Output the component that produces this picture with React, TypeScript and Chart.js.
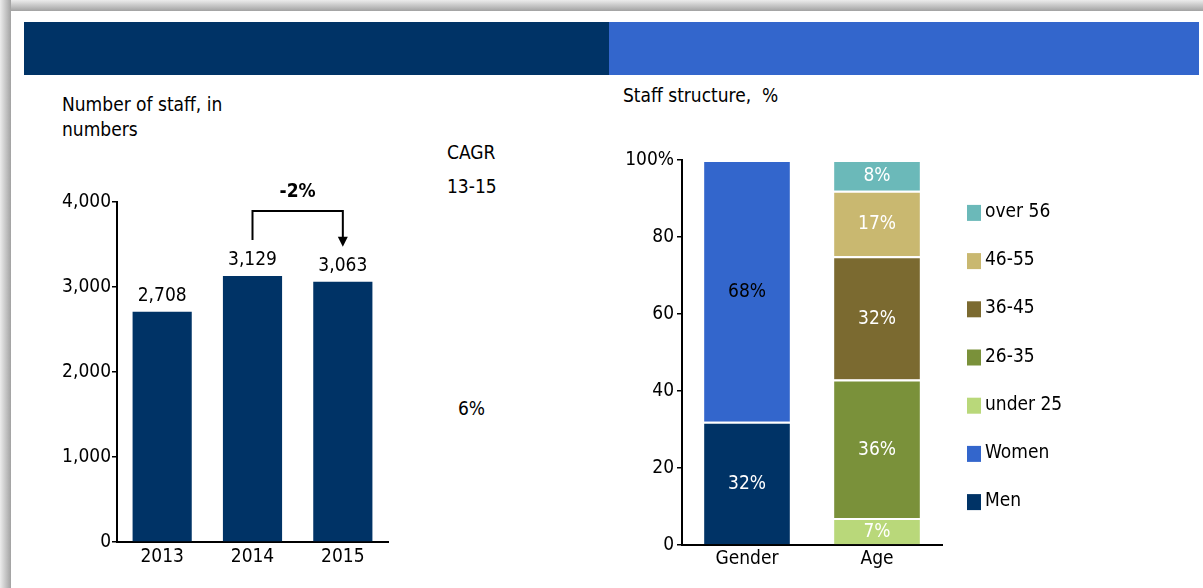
import React, { useEffect, useRef } from 'react';
import { Chart, registerables } from 'chart.js';

Chart.register(...registerables);

const FONT = '"DejaVu Sans Condensed", "DejaVu Sans", sans-serif';

// ---- Left chart data ----
const years = ['2013', '2014', '2015'];
const staffCounts = [2708, 3129, 3063];
const staffTicks = [0, 1000, 2000, 3000, 4000];
const cagrLabel = '-2%';
const cagrHeader = ['CAGR', '13-15'];
const sideValue = '6%';

// ---- Right chart data ----
const structureCategories = ['Gender', 'Age'];
const menShare = [32, null];
const womenShare = [68, null];
const under25Share = [null, 7];
const age26to35Share = [null, 36];
const age36to45Share = [null, 32];
const age46to55Share = [null, 17];
const over56Share = [null, 8];
const structureTicks = [0, 20, 40, 60, 80, 100];

const NAVY = '#003366';
const BLUE = '#3366CC';

const staffAnnotations = {
  id: 'staffAnnotations',
  afterDatasetsDraw(chart: any) {
    const { ctx } = chart;
    const meta = chart.getDatasetMeta(0);
    ctx.save();
    ctx.font = `19px ${FONT}`;
    ctx.fillStyle = '#000';
    ctx.textAlign = 'center';
    ctx.textBaseline = 'alphabetic';
    const tops: number[] = [];
    meta.data.forEach((el: any, i: number) => {
      const v = chart.data.datasets[0].data[i] as number;
      const baseY = el.y - 11;
      ctx.fillText(v.toLocaleString('en-US'), el.x, baseY);
      tops.push(baseY - 14);
    });
    const a = meta.data[1];
    const b = meta.data[2];
    const topY = Math.min(tops[1], tops[2]) - 40;
    ctx.strokeStyle = '#000';
    ctx.lineWidth = 2;
    ctx.beginPath();
    ctx.moveTo(a.x, tops[1] - 11);
    ctx.lineTo(a.x, topY);
    ctx.lineTo(b.x, topY);
    ctx.lineTo(b.x, tops[2] - 19);
    ctx.stroke();
    ctx.beginPath();
    ctx.moveTo(b.x - 5, tops[2] - 20);
    ctx.lineTo(b.x + 5, tops[2] - 20);
    ctx.lineTo(b.x, tops[2] - 10);
    ctx.closePath();
    ctx.fill();
    ctx.font = `bold 19px ${FONT}`;
    ctx.fillText(cagrLabel, (a.x + b.x) / 2, topY - 14);
    ctx.restore();
  },
};

const structureLabels = {
  id: 'structureLabels',
  afterDatasetsDraw(chart: any) {
    const { ctx } = chart;
    ctx.save();
    ctx.font = `19px ${FONT}`;
    ctx.textAlign = 'center';
    ctx.textBaseline = 'middle';
    chart.data.datasets.forEach((ds: any, di: number) => {
      const meta = chart.getDatasetMeta(di);
      meta.data.forEach((el: any, i: number) => {
        const v = ds.data[i];
        if (v == null) return;
        ctx.fillStyle = ds.labelColor;
        ctx.fillText(`${v}%`, el.x, (el.y + el.base) / 2 + 1);
      });
    });
    ctx.restore();
  },
};

const structureLegend = {
  id: 'structureLegend',
  afterDraw(chart: any) {
    const { ctx, chartArea } = chart;
    const items = [...chart.data.datasets].reverse();
    const x = chartArea.right + 25;
    const spacing = 48.2;
    const midY = (chartArea.top + chartArea.bottom) / 2 + 5;
    const startY = midY - (spacing * (items.length - 1)) / 2;
    ctx.save();
    ctx.font = `19px ${FONT}`;
    ctx.textAlign = 'left';
    ctx.textBaseline = 'alphabetic';
    items.forEach((ds: any, k: number) => {
      const cy = startY + k * spacing;
      ctx.fillStyle = ds.backgroundColor;
      ctx.fillRect(x, cy - 8, 14, 16);
      ctx.fillStyle = '#000';
      ctx.fillText(ds.label, x + 18, cy + 4);
    });
    ctx.restore();
  },
};

function StaffChart() {
  const ref = useRef<HTMLCanvasElement>(null);
  useEffect(() => {
    const chart = new Chart(ref.current!, {
      type: 'bar',
      data: {
        labels: years,
        datasets: [
          {
            label: 'Staff',
            data: staffCounts,
            backgroundColor: NAVY,
            categoryPercentage: 1,
            barPercentage: 0.655,
          },
        ],
      },
      options: {
        animation: false,
        responsive: false,
        devicePixelRatio: 1,
        layout: { padding: { left: 27, right: 62, top: 62, bottom: 16 } },
        plugins: { legend: { display: false }, tooltip: { enabled: false } },
        scales: {
          x: {
            grid: { display: true, drawOnChartArea: false, drawTicks: false, color: 'rgba(0,0,0,0)' },
            border: { display: true, color: '#000', width: 2 },
            ticks: { color: '#000', font: { family: FONT, size: 19 }, padding: 4 },
            afterFit: (s: any) => { s.height = 30; },
          },
          y: {
            min: 0,
            max: 4000,
            grid: { drawOnChartArea: false, drawTicks: true, tickLength: 5, color: '#000', lineWidth: 1.5 },
            border: { display: true, color: '#000', width: 2 },
            ticks: {
              color: '#000',
              font: { family: FONT, size: 19 },
              padding: 1,
              callback: (v: any) => Number(v).toLocaleString('en-US'),
            },
            afterBuildTicks: (s: any) => { s.ticks = staffTicks.map((v) => ({ value: v })); },
            afterFit: (s: any) => { s.width = 60; },
          },
        },
      },
      plugins: [staffAnnotations],
    } as any);
    return () => chart.destroy();
  }, []);
  return <canvas ref={ref} width={420} height={448} style={{ position: 'absolute', left: 30, top: 140 }} />;
}

function StructureChart() {
  const ref = useRef<HTMLCanvasElement>(null);
  useEffect(() => {
    const mk = (label: string, data: (number | null)[], color: string, labelColor: string) => ({
      label,
      data,
      backgroundColor: color,
      borderColor: '#ffffff',
      borderWidth: { top: 2, left: 0, right: 0, bottom: 0 },
      borderSkipped: 'start',
      categoryPercentage: 1,
      barPercentage: 0.66,
      stack: 'all',
      labelColor,
    });
    const chart = new Chart(ref.current!, {
      type: 'bar',
      data: {
        labels: structureCategories,
        datasets: [
          mk('Men', menShare, NAVY, '#ffffff'),
          mk('Women', womenShare, BLUE, '#000000'),
          mk('under 25', under25Share, '#B9D87A', '#ffffff'),
          mk('26-35', age26to35Share, '#7A913A', '#ffffff'),
          mk('36-45', age36to45Share, '#7B6A30', '#ffffff'),
          mk('46-55', age46to55Share, '#C9B870', '#ffffff'),
          mk('over 56', over56Share, '#6BB9B9', '#ffffff'),
        ],
      },
      options: {
        animation: false,
        responsive: false,
        devicePixelRatio: 1,
        layout: { padding: { left: 22, right: 261, top: 30, bottom: 13 } },
        plugins: { legend: { display: false }, tooltip: { enabled: false } },
        scales: {
          x: {
            stacked: true,
            grid: { display: true, drawOnChartArea: false, drawTicks: false, color: 'rgba(0,0,0,0)' },
            border: { display: true, color: '#000', width: 2 },
            ticks: { color: '#000', font: { family: FONT, size: 19 }, padding: 3 },
            afterFit: (s: any) => { s.height = 30; },
          },
          y: {
            stacked: true,
            min: 0,
            max: 100,
            grid: { drawOnChartArea: false, drawTicks: true, tickLength: 5, color: '#000', lineWidth: 1.5 },
            border: { display: true, color: '#000', width: 2 },
            ticks: {
              color: '#000',
              font: { family: FONT, size: 19 },
              padding: 3,
              callback: (v: any) => (Number(v) === 100 ? '100%' : String(v)),
            },
            afterBuildTicks: (s: any) => { s.ticks = structureTicks.map((v) => ({ value: v })); },
            afterFit: (s: any) => { s.width = 60; },
          },
        },
      },
      plugins: [structureLabels, structureLegend],
    } as any);
    return () => chart.destroy();
  }, []);
  return <canvas ref={ref} width={603} height={458} style={{ position: 'absolute', left: 600, top: 130 }} />;
}

const textStyle: React.CSSProperties = {
  position: 'absolute',
  fontFamily: FONT,
  fontSize: 19,
  lineHeight: '25px',
  color: '#000',
  whiteSpace: 'pre',
  margin: 0,
};

export default function App() {
  return (
    <div
      style={{
        position: 'fixed',
        left: 0,
        top: 0,
        width: 1203,
        height: 588,
        background: '#fff',
        overflow: 'hidden',
      }}
    >
      <div style={{ position: 'absolute', left: 0, top: 0, width: 1203, height: 11, background: 'linear-gradient(to bottom, #ececec, #a2a2a2)' }} />
      <div style={{ position: 'absolute', left: 0, top: 0, width: 11, height: 588, background: 'linear-gradient(to right, #ececec, #a2a2a2)' }} />
      <div style={{ position: 'absolute', left: 24, top: 22, width: 585, height: 53, background: NAVY }} />
      <div style={{ position: 'absolute', left: 609, top: 22, width: 590, height: 53, background: BLUE }} />

      <div style={{ ...textStyle, left: 62, top: 92 }}>{'Number of staff, in\nnumbers'}</div>
      <div style={{ ...textStyle, left: 623, top: 83 }}>{'Staff structure,  %'}</div>
      <div style={{ ...textStyle, left: 447, top: 140 }}>{cagrHeader[0]}</div>
      <div style={{ ...textStyle, left: 447, top: 174 }}>{cagrHeader[1]}</div>
      <div style={{ ...textStyle, left: 458, top: 396 }}>{sideValue}</div>

      <StaffChart />
      <StructureChart />
    </div>
  );
}
